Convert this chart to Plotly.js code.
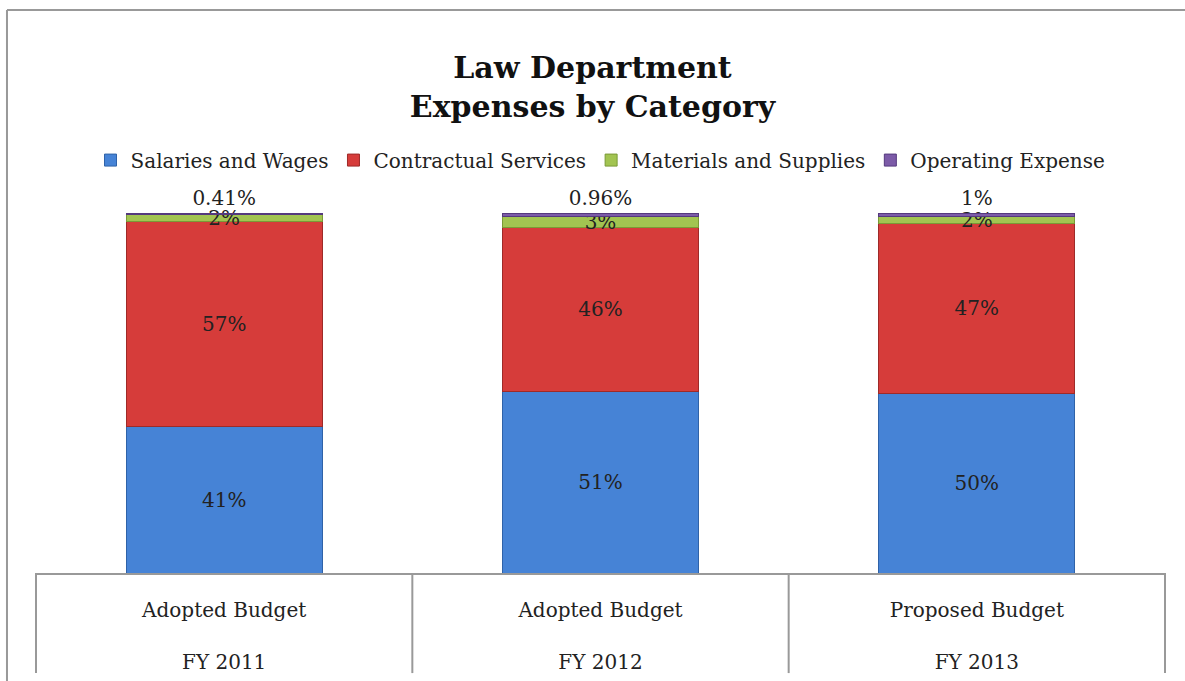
<!DOCTYPE html>
<html>
<head>
<meta charset="utf-8">
<script src="https://cdn.plot.ly/plotly-3.0.1.min.js"></script>
<style>
  html, body { margin: 0; padding: 0; background: #ffffff; }
  #chart { width: 1185px; height: 681px; }
</style>
</head>
<body>
<div id="chart"></div>
<script>
// ---- data ----
const categories = ['FY2011', 'FY2012', 'FY2013'];
const categoryLabels = ['Adopted Budget<br><br>FY 2011', 'Adopted Budget<br><br>FY 2012', 'Proposed Budget<br><br>FY 2013'];
const seriesNames = ['Salaries and Wages', 'Contractual Services', 'Materials and Supplies', 'Operating Expense'];
const salaries = [41, 51, 50];
const contractual = [57, 46, 47];
const materials = [2, 3, 2];
const operating = [0.41, 0.96, 1];

const colors = ['#4683d6', '#d63c3a', '#a2c451', '#7c5ba8'];
const lineColors = ['#2f62a8', '#9e2a28', '#7a9a36', '#55397e'];
const FONT = 'DejaVu Serif, serif';

const seriesValues = [salaries, contractual, materials, operating];
const positions = ['inside', 'inside', 'inside', 'outside'];

const traces = seriesValues.map((vals, i) => ({
  type: 'bar',
  name: seriesNames[i],
  x: categories,
  y: vals,
  text: vals.map(v => v + '%'),
  textposition: positions[i],
  insidetextanchor: 'middle',
  constraintext: 'none',
  textangle: 0,
  cliponaxis: false,
  textfont: { family: FONT, size: 20, color: '#222222' },
  marker: { color: colors[i], line: { color: lineColors[i], width: 1 } },
  width: 0.52,
  hoverinfo: 'skip'
}));

const layout = {
  width: 1185,
  height: 681,
  margin: { l: 36, r: 20, t: 213, b: 108 },
  paper_bgcolor: '#ffffff',
  plot_bgcolor: '#ffffff',
  barmode: 'stack',
  barnorm: 'percent',
  showlegend: true,
  title: {
    text: '<b>Law Department<br>Expenses by Category</b>',
    font: { family: FONT, size: 30, color: '#111111' },
    x: 0.5, xanchor: 'center',
    y: 0.885, yanchor: 'top'
  },
  legend: {
    orientation: 'h',
    x: 0.5, xanchor: 'center',
    y: 1.147, yanchor: 'middle',
    font: { family: FONT, size: 20, color: '#222222' },
    itemwidth: 30,
    tracegroupgap: 0,
    traceorder: 'normal'
  },
  xaxis: {
    type: 'category',
    range: [-0.5, 2.5],
    tickvals: categories,
    ticktext: categoryLabels,
    ticks: '',
    showgrid: false,
    zeroline: false,
    showline: true,
    linecolor: '#999999',
    linewidth: 2,
    ticklabelstandoff: 18,
    tickfont: { family: FONT, size: 20, color: '#222222' }
  },
  yaxis: {
    range: [0, 100],
    visible: false,
    showgrid: false,
    zeroline: false
  },
  shapes: [
    // outer frame (left and top)
    { type: 'line', xref: 'paper', yref: 'paper', x0: -0.0257, x1: -0.0257, y0: 1.564, y1: -0.31, line: { color: '#999999', width: 2 } },
    { type: 'line', xref: 'paper', yref: 'paper', x0: -0.0257, x1: 1.02, y0: 1.564, y1: 1.564, line: { color: '#999999', width: 2 } },
    // category table separators
    { type: 'line', xref: 'paper', yref: 'paper', x0: 0, x1: 0, y0: 0, y1: -0.278, line: { color: '#999999', width: 2 } },
    { type: 'line', xref: 'paper', yref: 'paper', x0: 1/3, x1: 1/3, y0: 0, y1: -0.278, line: { color: '#999999', width: 2 } },
    { type: 'line', xref: 'paper', yref: 'paper', x0: 2/3, x1: 2/3, y0: 0, y1: -0.278, line: { color: '#999999', width: 2 } },
    { type: 'line', xref: 'paper', yref: 'paper', x0: 1, x1: 1, y0: 0, y1: -0.278, line: { color: '#999999', width: 2 } }
  ]
};

Plotly.newPlot('chart', traces, layout, { displayModeBar: false, staticPlot: true });
</script>
</body>
</html>
